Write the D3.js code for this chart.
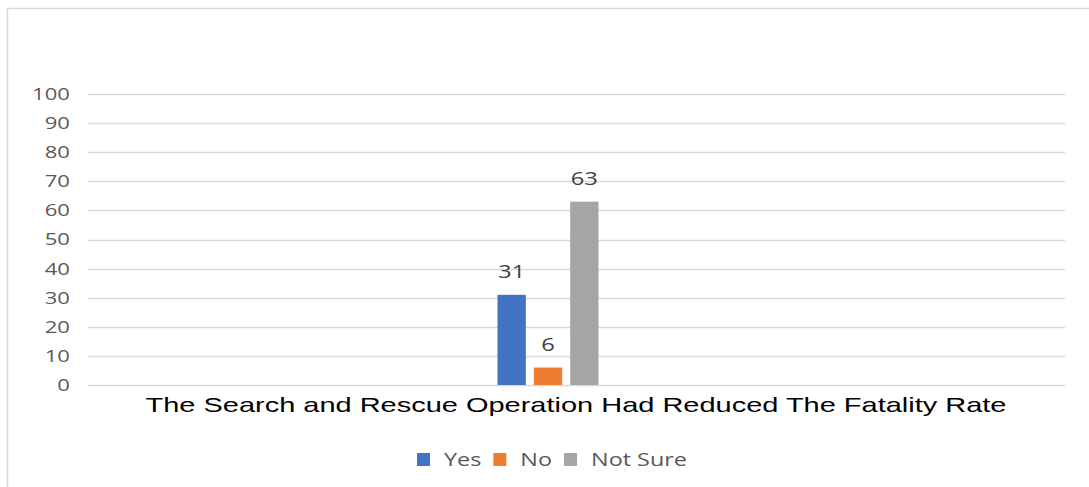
<!DOCTYPE html>
<html>
<head>
<meta charset="utf-8">
<script src="https://cdn.jsdelivr.net/npm/d3@7"></script>
<style>
  html, body { margin: 0; padding: 0; background: #fff; }
  svg { display: block; }
</style>
</head>
<body>
<svg id="chart" width="1089" height="487"></svg>
<script>
// Survey responses for a single statement
const categories = ["The Search and Rescue Operation Had Reduced The Fatality Rate"];
const seriesNames = ["Yes", "No", "Not Sure"];
const seriesValues = [31, 6, 63];
const seriesColors = ["#4472C4", "#ED7D31", "#A5A5A5"];
const yTicks = [0, 10, 20, 30, 40, 50, 60, 70, 80, 90, 100];

const svg = d3.select("#chart");
const W = 1089, H = 487;

// the chart's lettering is horizontally widened: scale each text about its anchor x
function widen(sel, k) {
  sel.each(function () {
    const x = +(this.getAttribute("x") || 0);
    d3.select(this).attr("transform",
      `translate(${x},0) scale(${k},1) translate(${-x},0)`);
  });
  return sel;
}

// outer chart frame
svg.append("rect")
  .attr("x", 7.5).attr("y", 8.5)
  .attr("width", W - 4).attr("height", H - 3)
  .attr("fill", "#fff")
  .attr("stroke", "#d9d9d9").attr("stroke-width", 1.5);

const plot = { left: 88, right: 1065, top: 94, bottom: 385 };

const y = d3.scaleLinear().domain([0, 100]).range([plot.bottom, plot.top]);

const x0 = d3.scaleBand().domain(categories)
  .range([plot.left, plot.right]);

// gridlines
svg.append("g")
  .selectAll("line")
  .data(yTicks)
  .join("line")
  .attr("x1", plot.left).attr("x2", plot.right)
  .attr("y1", d => Math.round(y(d)) + 0.5)
  .attr("y2", d => Math.round(y(d)) + 0.5)
  .attr("stroke", "#d9d9d9").attr("stroke-width", 1.3);

// y axis labels
const yAxis = d3.axisLeft(y).tickValues(yTicks).tickSize(0).tickPadding(0);
const gy = svg.append("g")
  .attr("transform", `translate(${plot.left - 18},0)`)
  .call(yAxis);
gy.select(".domain").remove();
gy.selectAll("text")
  .attr("font-family", "'Open Sans', sans-serif")
  .attr("font-size", 17)
  .attr("fill", "#595959")
  .call(widen, 1.3);

// bars within the category group
const catCenter = x0(categories[0]) + x0.bandwidth() / 2;
const x1 = d3.scaleBand().domain(seriesNames)
  .range([catCenter - 79, catCenter + 22])
  .paddingInner(0.22);

const bars = svg.append("g");
bars.selectAll("rect")
  .data(seriesNames.map((s, i) => ({ s, v: seriesValues[i], c: seriesColors[i] })))
  .join("rect")
  .attr("x", d => x1(d.s))
  .attr("y", d => y(d.v))
  .attr("width", x1.bandwidth())
  .attr("height", d => y(0) - y(d.v))
  .attr("fill", d => d.c);

// value labels
bars.selectAll("text")
  .data(seriesNames.map((s, i) => ({ s, v: seriesValues[i] })))
  .join("text")
  .attr("x", d => x1(d.s) + x1.bandwidth() / 2)
  .attr("y", d => y(d.v) - 17)
  .attr("text-anchor", "middle")
  .attr("font-family", "'Open Sans', sans-serif")
  .attr("font-size", 18)
  .attr("fill", "#404040")
  .text(d => d.v)
  .call(widen, 1.32);

// category label
svg.append("text")
  .attr("x", catCenter - 0.5)
  .attr("y", 412)
  .attr("text-anchor", "middle")
  .attr("font-family", "'Liberation Sans', Arial, sans-serif")
  .attr("font-size", 21)
  .attr("fill", "#000")
  .text(categories[0])
  .call(widen, 1.38);

// legend
const legend = svg.append("g").attr("transform", "translate(417,453)");
const LK = 1.3;
let lx = 0;
seriesNames.forEach((name, i) => {
  const g = legend.append("g").attr("transform", `translate(${lx},0)`);
  g.append("rect").attr("x", 0).attr("y", 0).attr("width", 13).attr("height", 13)
    .attr("fill", seriesColors[i]);
  const t = g.append("text")
    .attr("x", 27).attr("y", 13)
    .attr("font-family", "'Open Sans', sans-serif")
    .attr("font-size", 18)
    .attr("fill", "#595959")
    .text(name)
    .call(widen, LK);
  lx += 27 + t.node().getComputedTextLength() * LK + 12;
});
</script>
</body>
</html>
